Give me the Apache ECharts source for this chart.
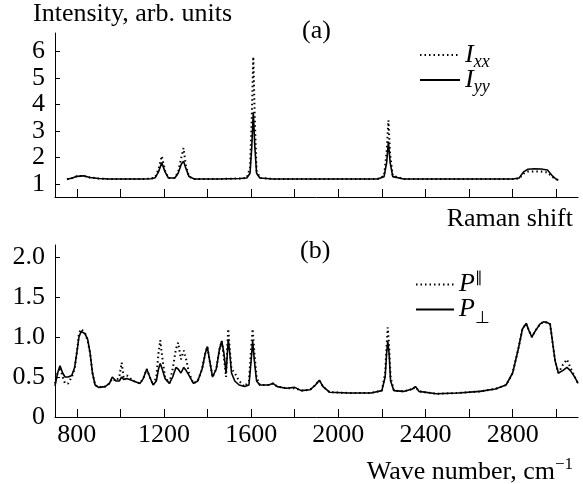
<!DOCTYPE html>
<html>
<head>
<meta charset="utf-8">
<script src="https://cdn.jsdelivr.net/npm/echarts@6/dist/echarts.min.js"></script>
<style>
  html, body { margin: 0; padding: 0; background: #fff; }
  #main { width: 583px; height: 484px; }
</style>
</head>
<body>
<div id="main"></div>
<script>
// (a) Raman spectra
var ramanShift = [755, 780, 800, 830, 860, 900, 950, 1000, 1050, 1100, 1140, 1160, 1175, 1190, 1205, 1220, 1250, 1265, 1280, 1290, 1300, 1315, 1340, 1400, 1450, 1500, 1550, 1580, 1595, 1603, 1610, 1617, 1625, 1640, 1700, 1750, 1800, 1900, 2000, 2100, 2180, 2210, 2222, 2230, 2238, 2250, 2300, 2400, 2500, 2600, 2700, 2800, 2830, 2850, 2870, 2900, 2930, 2960, 2980, 3000, 3010];
var intensityYY = [1.17, 1.22, 1.28, 1.3, 1.24, 1.2, 1.18, 1.18, 1.18, 1.18, 1.19, 1.23, 1.45, 1.8, 1.45, 1.22, 1.22, 1.4, 1.75, 1.85, 1.6, 1.27, 1.18, 1.18, 1.18, 1.19, 1.2, 1.22, 1.4, 2.4, 3.7, 2.4, 1.4, 1.22, 1.18, 1.18, 1.18, 1.18, 1.18, 1.18, 1.18, 1.27, 1.8, 2.6, 1.8, 1.27, 1.18, 1.18, 1.18, 1.18, 1.18, 1.18, 1.22, 1.45, 1.55, 1.57, 1.56, 1.52, 1.32, 1.17, 1.14];
var intensityXX = [1.17, 1.22, 1.28, 1.3, 1.24, 1.2, 1.18, 1.18, 1.18, 1.18, 1.19, 1.25, 1.55, 2.05, 1.5, 1.22, 1.22, 1.45, 2.0, 2.35, 1.7, 1.27, 1.18, 1.18, 1.18, 1.19, 1.2, 1.22, 1.6, 3.5, 5.8, 3.4, 1.5, 1.22, 1.18, 1.18, 1.18, 1.18, 1.18, 1.18, 1.18, 1.3, 2.2, 3.4, 2.1, 1.3, 1.18, 1.18, 1.18, 1.18, 1.18, 1.18, 1.2, 1.38, 1.46, 1.47, 1.46, 1.43, 1.27, 1.17, 1.14];

// (b) polarization spectra
var waveNumber = [700, 712, 723, 735, 746, 760, 777, 790, 800, 810, 820, 838, 850, 861, 872, 884, 900, 930, 950, 963, 980, 995, 1006, 1015, 1030, 1060, 1090, 1105, 1121, 1135, 1150, 1165, 1175, 1183, 1192, 1205, 1225, 1240, 1255, 1265, 1278, 1291, 1302, 1315, 1335, 1355, 1375, 1390, 1399, 1410, 1423, 1440, 1455, 1465, 1475, 1485, 1490, 1495, 1502, 1510, 1525, 1545, 1570, 1590, 1600, 1607, 1615, 1625, 1640, 1680, 1700, 1720, 1760, 1800, 1830, 1870, 1895, 1913, 1930, 1960, 2050, 2150, 2200, 2215, 2222, 2227, 2233, 2240, 2255, 2300, 2340, 2355, 2370, 2450, 2550, 2650, 2720, 2770, 2800, 2826, 2845, 2862, 2875, 2888, 2905, 2925, 2942, 2960, 2972, 2985, 2995, 3010, 3030, 3049, 3065, 3085, 3100];
var pPerp = [0.39, 0.55, 0.64, 0.55, 0.5, 0.5, 0.52, 0.62, 0.8, 1.0, 1.07, 1.04, 0.97, 0.8, 0.55, 0.4, 0.37, 0.38, 0.42, 0.5, 0.45, 0.45, 0.5, 0.47, 0.48, 0.45, 0.42, 0.48, 0.6, 0.5, 0.4, 0.45, 0.6, 0.67, 0.6, 0.48, 0.42, 0.5, 0.62, 0.6, 0.55, 0.62, 0.58, 0.52, 0.42, 0.45, 0.6, 0.8, 0.88, 0.7, 0.5, 0.6, 0.85, 0.95, 0.8, 0.55, 0.75, 0.97, 0.8, 0.55, 0.45, 0.4, 0.38, 0.4, 0.7, 0.95, 0.7, 0.45, 0.4, 0.4, 0.42, 0.38, 0.36, 0.37, 0.33, 0.34, 0.4, 0.46, 0.38, 0.31, 0.3, 0.3, 0.33, 0.5, 0.8, 0.95, 0.8, 0.45, 0.33, 0.32, 0.35, 0.38, 0.32, 0.29, 0.3, 0.32, 0.35, 0.4, 0.55, 0.85, 1.1, 1.17, 1.08, 1.0, 1.08, 1.16, 1.19, 1.18, 1.16, 0.9, 0.7, 0.55, 0.58, 0.62, 0.58, 0.5, 0.42];
var pPar = [0.42, 0.55, 0.62, 0.5, 0.42, 0.42, 0.5, 0.6, 0.8, 1.05, 1.1, 1.05, 0.95, 0.8, 0.55, 0.4, 0.37, 0.38, 0.42, 0.48, 0.45, 0.5, 0.68, 0.5, 0.52, 0.45, 0.42, 0.48, 0.6, 0.5, 0.4, 0.5, 0.8, 0.96, 0.75, 0.5, 0.42, 0.6, 0.85, 0.93, 0.72, 0.83, 0.72, 0.55, 0.42, 0.45, 0.6, 0.8, 0.88, 0.7, 0.5, 0.6, 0.85, 0.95, 0.75, 0.5, 0.85, 1.1, 0.85, 0.6, 0.55, 0.45, 0.38, 0.45, 0.85, 1.1, 0.8, 0.5, 0.4, 0.4, 0.42, 0.38, 0.36, 0.36, 0.33, 0.34, 0.4, 0.46, 0.38, 0.31, 0.3, 0.3, 0.33, 0.55, 0.9, 1.12, 0.9, 0.5, 0.33, 0.32, 0.35, 0.38, 0.32, 0.29, 0.3, 0.32, 0.35, 0.4, 0.55, 0.85, 1.1, 1.17, 1.08, 1.0, 1.08, 1.16, 1.19, 1.18, 1.16, 0.9, 0.7, 0.55, 0.65, 0.72, 0.62, 0.5, 0.42];

var xTicks = [800, 1000, 1200, 1400, 1600, 1800, 2000, 2200, 2400, 2600, 2800, 3000];
var xLabels = [800, 1200, 1600, 2000, 2400, 2800];
var yTicksA = [1, 2, 3, 4, 5, 6];
var yTicksB = [0, 0.5, 1, 1.5, 2];

var FONT = 'Liberation Serif';
var FS = 26;

function zipXY(xs, ys) {
    var out = [];
    for (var i = 0; i < xs.length; i++) out.push([xs[i], ys[i]]);
    return out;
}

var myChart = echarts.init(document.getElementById('main'));

var axisLine = { lineStyle: { color: '#000', width: 1 } };
var tickStyle = { inside: true, length: 8, lineStyle: { color: '#000', width: 1 } };
var labelStyle = { color: '#000', fontFamily: FONT, fontSize: FS };

var dotted = { color: '#000', width: 2, type: [1.5, 3] };
var solid = { color: '#000', width: 1.6 };

// 图例文字: 斜体 + 下标
var legendRich = {
    i: { fontFamily: FONT, fontSize: FS, fontStyle: 'italic', color: '#000' },
    s: { fontFamily: FONT, fontSize: 18, fontStyle: 'italic', color: '#000', padding: [14, 0, 0, 0] },
    u: { fontFamily: FONT, fontSize: 15, color: '#000', padding: [0, 0, 12, 0] },
    d: { fontFamily: FONT, fontSize: 17, color: '#000', padding: [18, 0, 0, 0] }
};

var legendText = {
    'Ixx': '{i|I}{s|xx}',
    'Iyy': '{i|I}{s|yy}',
    'Ppar': '{i|P}{u|\u2225}',
    'Pperp': '{i|P}{d|\u22A5}'
};

function textEl(txt, pos) {
    return Object.assign({ type: 'text', style: { text: txt, font: FS + 'px "Liberation Serif"', fill: '#000' } }, pos);
}

var option = {
    animation: false,
    backgroundColor: '#fff',
    grid: [
        { left: 55, right: 5, top: 33, height: 164 },
        { left: 55, right: 5, top: 245, height: 172 }
    ],
    xAxis: [
        {
            type: 'value', gridIndex: 0, min: 700, max: 3100,
            axisLine: axisLine,
            axisTick: Object.assign({ customValues: xTicks }, tickStyle),
            axisLabel: { show: false },
            splitLine: { show: false }
        },
        {
            type: 'value', gridIndex: 1, min: 700, max: 3100,
            axisLine: axisLine,
            axisTick: Object.assign({ customValues: xTicks }, tickStyle),
            axisLabel: Object.assign({
                customValues: xLabels, margin: 5,
                formatter: function (v) { return String(v); }
            }, labelStyle),
            splitLine: { show: false }
        }
    ],
    yAxis: [
        {
            type: 'value', gridIndex: 0, min: 0.5, max: 6.7,
            axisLine: Object.assign({ show: true }, axisLine),
            axisTick: Object.assign({ customValues: yTicksA }, tickStyle, { length: 5 }),
            axisLabel: Object.assign({ customValues: yTicksA, margin: 10 }, labelStyle),
            splitLine: { show: false }
        },
        {
            type: 'value', gridIndex: 1, min: 0, max: 2.15,
            axisLine: Object.assign({ show: true }, axisLine),
            axisTick: Object.assign({ customValues: yTicksB }, tickStyle, { length: 5 }),
            axisLabel: Object.assign({
                customValues: yTicksB, margin: 10,
                formatter: function (v) { return v === 0 ? '0' : v.toFixed(1); }
            }, labelStyle),
            splitLine: { show: false }
        }
    ],
    legend: [
        {
            data: ['Ixx', 'Iyy'], orient: 'vertical', left: 414, top: 37,
            itemWidth: 40, itemHeight: 14, itemGap: -4,
            itemStyle: { opacity: 0 },
            formatter: function (n) { return legendText[n]; },
            textStyle: { rich: legendRich }
        },
        {
            data: ['Ppar', 'Pperp'], orient: 'vertical', left: 410, top: 266,
            itemWidth: 38, itemHeight: 14, itemGap: -1,
            itemStyle: { opacity: 0 },
            formatter: function (n) { return legendText[n]; },
            textStyle: { rich: legendRich }
        }
    ],
    graphic: [
        textEl('Intensity, arb. units', { left: 33, top: 1 }),
        textEl('(a)', { left: 302, top: 18 }),
        textEl('Raman shift', { right: 10, top: 206 }),
        textEl('(b)', { left: 300, top: 238 }),
        {
            type: 'text', right: 10, top: 456,
            style: {
                text: '{t|Wave number, cm}{p|\u22121}',
                rich: {
                    t: { fontFamily: FONT, fontSize: FS, fill: '#000', color: '#000' },
                    p: { fontFamily: FONT, fontSize: 17, fill: '#000', color: '#000', padding: [0, 0, 16, 0] }
                }
            }
        }
    ],
    series: [
        {
            name: 'Ixx', type: 'line', xAxisIndex: 0, yAxisIndex: 0,
            data: zipXY(ramanShift, intensityXX), symbol: 'none', lineStyle: dotted, itemStyle: { color: '#000' }
        },
        {
            name: 'Iyy', type: 'line', xAxisIndex: 0, yAxisIndex: 0,
            data: zipXY(ramanShift, intensityYY), symbol: 'none', lineStyle: solid, itemStyle: { color: '#000' }
        },
        {
            name: 'Ppar', type: 'line', xAxisIndex: 1, yAxisIndex: 1,
            data: zipXY(waveNumber, pPar), symbol: 'none', lineStyle: dotted, itemStyle: { color: '#000' }
        },
        {
            name: 'Pperp', type: 'line', xAxisIndex: 1, yAxisIndex: 1,
            data: zipXY(waveNumber, pPerp), symbol: 'none', lineStyle: solid, itemStyle: { color: '#000' }
        }
    ]
};

myChart.setOption(option);
</script>
</body>
</html>
